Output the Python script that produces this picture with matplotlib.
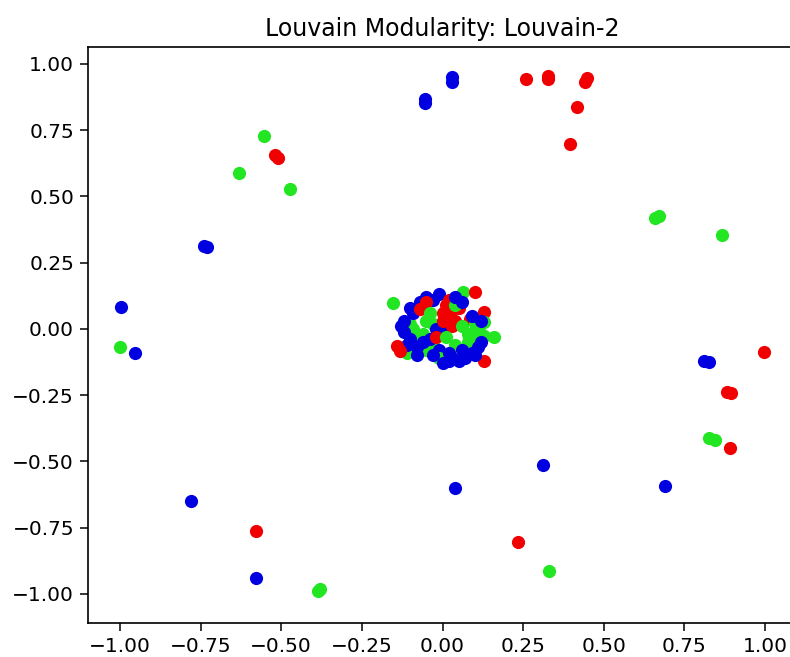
import matplotlib
matplotlib.use('Agg')
import matplotlib.pyplot as plt

# Node positions from the spring layout, grouped by community colour.
# Outlying nodes
red_x = [0.26, 0.327, 0.327, 0.447, 0.443, 0.417, 0.396, -0.52, -0.51,
         0.998, 0.881, 0.894, 0.891, 0.234, -0.579]
red_y = [0.945, 0.956, 0.944, 0.946, 0.931, 0.837, 0.696, 0.655, 0.645,
         -0.086, -0.237, -0.242, -0.448, -0.805, -0.763]

blue_x = [0.028, 0.028, -0.053, -0.053, -0.74, -0.73, -0.996, -0.953, -0.78,
          -0.577, 0.311, 0.039, 0.69, 0.812, 0.826]
blue_y = [0.95, 0.933, 0.868, 0.853, 0.312, 0.31, 0.084, -0.092, -0.648,
          -0.94, -0.512, -0.601, -0.592, -0.123, -0.125]

green_x = [-0.553, -0.63, -0.474, 0.66, 0.67, 0.866, -0.999, -0.385, -0.38,
           0.331, 0.827, 0.844, 0.16]
green_y = [0.727, 0.588, 0.527, 0.42, 0.425, 0.353, -0.067, -0.99, -0.98,
           -0.913, -0.41, -0.419, -0.03]

# Central clump of tightly connected nodes
core_blue_x = [-0.01, -0.03, -0.06, -0.09, -0.12, -0.12, -0.10, -0.02, 0.00,
               -0.04, -0.06, -0.01, -0.10, -0.13, -0.11, -0.07, -0.05,
               0.03, 0.06, 0.09, 0.11, 0.12, 0.09, 0.06, 0.12, -0.08, 0.02,
               -0.03, 0.05, 0.02, 0.07, 0.10, 0.04, 0.00, -0.08]
core_blue_y = [0.13, 0.11, 0.08, 0.06, 0.03, -0.01, -0.04, 0.00, -0.01,
               -0.04, -0.05, -0.08, 0.08, 0.01, -0.06, 0.10, 0.12,
               -0.11, -0.08, -0.09, -0.07, -0.05, 0.05, 0.10, 0.03, -0.07,
               -0.12, -0.10, -0.12, -0.09, -0.11, -0.10, 0.12, -0.13, -0.10]

core_green_x = [-0.153, 0.065, -0.05, -0.09, -0.06, -0.09, -0.05, -0.10,
                -0.07, -0.03, -0.11, -0.03, 0.01, 0.06, 0.11, 0.12, 0.10,
                0.08, 0.04, -0.01, 0.00, -0.04, 0.04, 0.08, 0.10, 0.13, 0.13]
core_green_y = [0.098, 0.141, 0.03, 0.00, -0.02, -0.07, -0.08, 0.02, -0.04,
                -0.06, -0.09, 0.02, -0.03, 0.01, 0.00, -0.02, -0.04, -0.05,
                -0.06, -0.11, -0.12, 0.06, 0.09, -0.02, 0.02, 0.025, -0.025]

core_red_x = [0.10, 0.01, 0.03, 0.02, 0.04, 0.05, 0.00, 0.13, 0.085, -0.07,
              -0.02, -0.142, -0.132, 0.13, 0.02, 0.04, 0.03, 0.00, -0.05]
core_red_y = [0.138, 0.09, 0.07, 0.05, 0.03, 0.08, 0.06, 0.063, 0.038, 0.075,
              -0.031, -0.063, -0.082, -0.12, 0.11, 0.10, 0.01, 0.03, 0.10]

RED = '#f00000'
GREEN = '#22e622'
BLUE = '#0000e0'


def main():
    plt.rcParams['font.family'] = 'DejaVu Sans'

    fig = plt.figure(figsize=(7.9, 6.57), dpi=100)
    ax = fig.add_axes([0.1114, 0.0518, 0.8975, 0.8771])

    kw = dict(s=90, linewidths=0)
    ax.scatter(core_green_x[:12], core_green_y[:12], c=GREEN, **kw)
    ax.scatter(core_blue_x[:17], core_blue_y[:17], c=BLUE, **kw)
    ax.scatter(core_red_x, core_red_y, c=RED, **kw)
    ax.scatter(core_green_x[12:], core_green_y[12:], c=GREEN, **kw)
    ax.scatter(core_blue_x[17:], core_blue_y[17:], c=BLUE, **kw)
    ax.scatter(red_x, red_y, c=RED, **kw)
    ax.scatter(blue_x, blue_y, c=BLUE, **kw)
    ax.scatter(green_x, green_y, c=GREEN, **kw)

    ticks = [-1.0, -0.75, -0.5, -0.25, 0.0, 0.25, 0.5, 0.75, 1.0]
    ax.set_xlim(-1.099, 1.099)
    ax.set_ylim(-1.11, 1.065)
    ax.set_xticks(ticks)
    ax.set_yticks(ticks)
    ax.tick_params(labelsize=14.5, length=6, width=1.1, pad=4)
    for sp in ax.spines.values():
        sp.set_linewidth(1.2)

    ax.set_title('Louvain Modularity: Louvain-2', fontsize=17, pad=8)

    fig.savefig('out.png', dpi=100)


if __name__ == '__main__':
    main()
